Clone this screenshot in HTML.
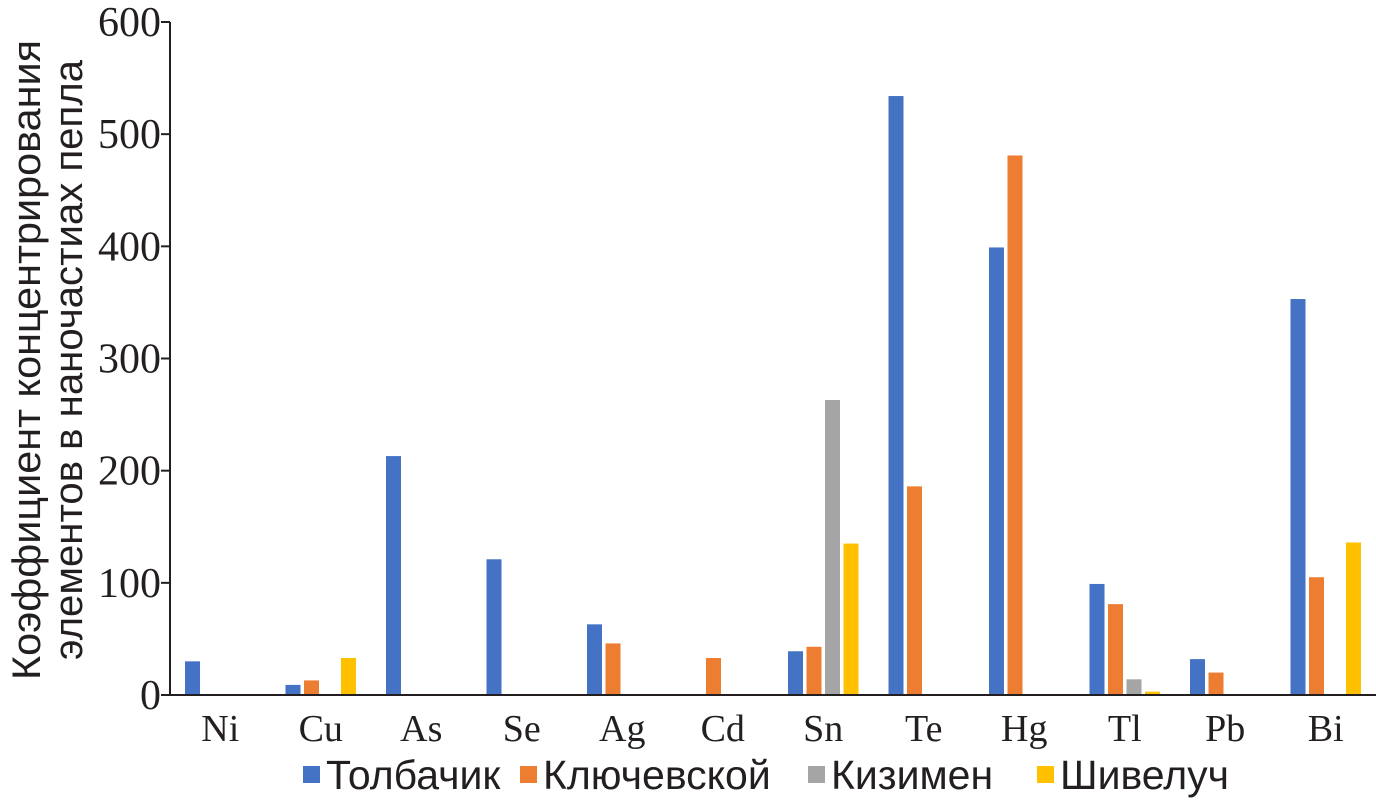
<!DOCTYPE html>
<html><head><meta charset="utf-8"><style>
html,body{margin:0;padding:0;background:#fff;}
svg{display:block;}
</style></head><body>
<svg id="chart" width="1376" height="803" xmlns="http://www.w3.org/2000/svg">
<g id="plot"></g>
<g font-family="Liberation Sans, sans-serif" font-size="40" fill="#231f20">
<text transform="translate(40,360) rotate(-90)" text-anchor="middle" textLength="640" lengthAdjust="spacingAndGlyphs">Коэффициент концентрирования</text>
<text transform="translate(82,360) rotate(-90)" text-anchor="middle" textLength="600" lengthAdjust="spacingAndGlyphs">элементов в наночастиах пепла</text>
</g>
<g id="legend" font-family="Liberation Sans, sans-serif" font-size="41" fill="#231f20"></g>
</svg>
<script>
const categories = ["Ni","Cu","As","Se","Ag","Cd","Sn","Te","Hg","Tl","Pb","Bi"];
const seriesNames = ["Толбачик","Ключевской","Кизимен","Шивелуч"];
const tolbachik = [30,9,213,121,63,0,39,534,399,99,32,353];
const klyuchevskoy = [0,13,0,0,46,33,43,186,481,81,20,105];
const kizimen = [0,0,0,0,0,0,263,0,0,14,0,0];
const shiveluch = [0,33,0,0,0,0,135,0,0,3,0,136];
const yTicks = [0,100,200,300,400,500,600];
const colors = ["#4472c4","#ed7d31","#a5a5a5","#ffc000"];
const series = [tolbachik,klyuchevskoy,kizimen,shiveluch];

const NS="http://www.w3.org/2000/svg";
const X0=170, BAND=100.5, Y0=695, YTOP=22, YMAX=600;
const y = v => Y0 - v/YMAX*(Y0-YTOP);
const xc = i => X0 + BAND*i + BAND/2;
const plot=document.getElementById('plot');
function mk(tag,attrs,parent){const e=document.createElementNS(NS,tag);for(const k in attrs)e.setAttribute(k,attrs[k]);parent.appendChild(e);return e;}

series.forEach((s,si)=>{
  s.forEach((v,i)=>{
    if(v<=0) return;
    const r=mk('rect',{x:xc(i)-27.75+si*18.5-7.5,y:y(v),width:15,height:Y0-y(v),fill:colors[si]},plot);
    
    
  });
});
const ax=mk('line',{x1:X0,y1:YTOP,x2:X0,y2:Y0,stroke:'#231f20','stroke-width':2},plot);


const bx=mk('line',{x1:X0,y1:Y0,x2:1376,y2:Y0,stroke:'#231f20','stroke-width':2},plot);


yTicks.forEach(t=>{
  mk('line',{x1:X0-9,y1:y(t),x2:X0,y2:y(t),stroke:'#231f20','stroke-width':2},plot);
  const tx=mk('text',{x:X0-9,y:y(t)+14,'text-anchor':'end','font-family':'Liberation Serif, serif','font-size':42,fill:'#231f20'},plot);
  tx.textContent=t;
  
  
});
categories.forEach((c,i)=>{
  const tx=mk('text',{x:xc(i),y:741,'text-anchor':'middle','font-family':'Liberation Serif, serif','font-size':38,fill:'#231f20'},plot);
  tx.textContent=c;
  
  
});
const lg=document.getElementById('legend');
const lx=[303,520,808,1037];
seriesNames.forEach((n,i)=>{
  const r=mk('rect',{x:lx[i],y:766,width:17,height:17,fill:colors[i]},lg);
  
  
  const t=mk('text',{x:lx[i]+23,y:789},lg);
  t.textContent=n;
  
  
});
</script>
</body></html>
